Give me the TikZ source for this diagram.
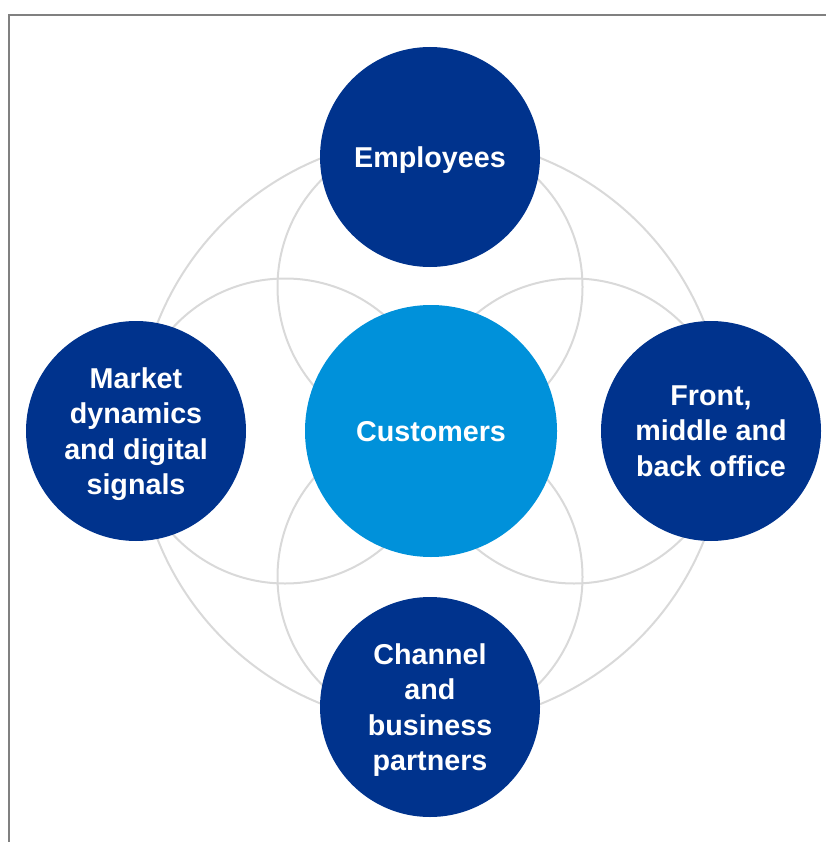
\documentclass[tikz,border=0pt]{standalone}
\usepackage{fontspec}
\setmainfont{Liberation Sans}
\usetikzlibrary{positioning}
\definecolor{darkblue}{HTML}{00338D}
\definecolor{lightblue}{HTML}{0091DA}
\definecolor{ringgray}{HTML}{D9D9D9}
\definecolor{framegray}{HTML}{808080}
\tikzset{
topic/.style={ % Sets the properties for the outer circles
circle,
fill=darkblue,
minimum size=220pt,
inner sep=0pt,
text=white,
align=center,
text depth=0pt,
font=\bfseries\fontsize{28.7}{35.5}\selectfont},
core/.style={ % The centre circle
topic,
fill=lightblue,
minimum size=252pt},
ring/.style={ % Light grey rings behind the circles
draw=ringgray,
line width=2pt}}

\begin{document}
\begin{tikzpicture}[x=1pt, y=-1pt]
\useasboundingbox (0,0) rectangle (826,842);
\draw[framegray, line width=2pt] (9,842) -- (9,15) -- (826,15);
\coordinate (mid) at (431,431);
\coordinate (upper) at (430,287);
\coordinate (lower) at (430,577);
\coordinate (lefty) at (285,431);
\coordinate (righty) at (574,431);
\draw[ring] (mid) circle (294pt);
\draw[ring] (upper) circle (152.5pt);
\draw[ring] (lower) circle (152.5pt);
\draw[ring] (lefty) circle (152.5pt);
\draw[ring] (righty) circle (152.5pt);
\node[core] (cust) at (431,431) {Customers};
\node[topic] (emp) at (430,157) {Employees};
\node[topic] (market) at (136,431) {Market\\dynamics\\and digital\\signals};
\node[topic] (office) at (711,431) {Front,\\middle and\\back office};
\node[topic] (partners) at (430,707) {Channel\\and\\business\\partners};
\end{tikzpicture}
\end{document}
